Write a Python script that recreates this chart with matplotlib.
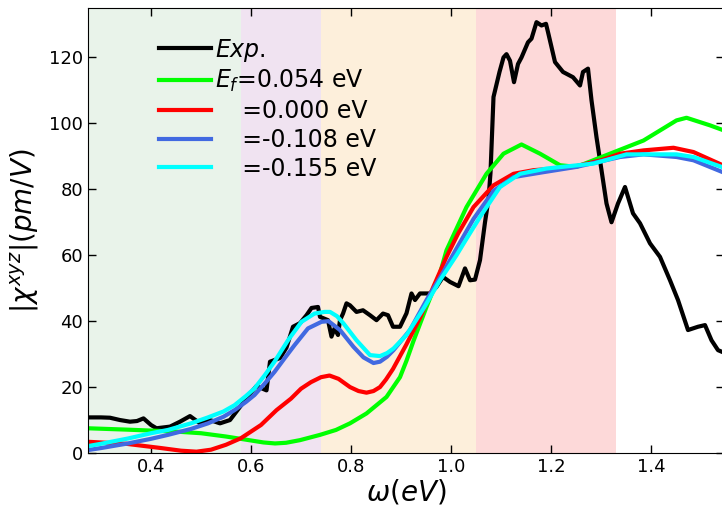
import matplotlib
matplotlib.use('Agg')
import matplotlib.pyplot as plt

# experimental |chi_xyz| (pm/V)
w_exp = [0.274, 0.30, 0.318, 0.338, 0.358, 0.372, 0.385, 0.40, 0.411, 0.438, 0.458,
         0.478, 0.498, 0.518, 0.538, 0.558, 0.578, 0.598, 0.611, 0.631, 0.638, 0.658,
         0.671, 0.684, 0.698, 0.711, 0.721, 0.734, 0.738, 0.754, 0.761, 0.767, 0.774,
         0.778, 0.784, 0.791, 0.798, 0.811, 0.824, 0.838, 0.851, 0.864, 0.874, 0.884,
         0.898, 0.911, 0.921, 0.928, 0.938, 0.958, 0.971, 0.984, 0.998, 1.015, 1.028,
         1.038, 1.048, 1.058, 1.068, 1.075, 1.079, 1.085, 1.097, 1.105, 1.111, 1.118,
         1.126, 1.134, 1.141, 1.154, 1.161, 1.171, 1.181, 1.19, 1.194, 1.208, 1.224,
         1.244, 1.258, 1.264, 1.274, 1.281, 1.291, 1.301, 1.311, 1.321, 1.334, 1.348,
         1.364, 1.378, 1.398, 1.418, 1.438, 1.454, 1.474, 1.494, 1.508, 1.521, 1.534,
         1.545]
chi_exp = [10.8, 10.8, 10.7, 10.0, 9.5, 9.7, 10.5, 8.5, 7.5, 8.0, 9.5,
           11.2, 9.0, 10.0, 9.0, 10.0, 14.0, 18.0, 20.3, 19.0, 27.7, 28.8,
           32.0, 38.3, 39.4, 41.8, 44.0, 44.3, 41.3, 40.3, 35.3, 37.8, 35.8,
           40.3, 42.3, 45.4, 44.8, 42.8, 43.3, 41.8, 40.3, 42.3, 41.8, 38.3,
           38.3, 42.4, 48.4, 46.4, 48.4, 48.4, 50.4, 53.4, 51.9, 50.6, 56.0,
           52.4, 52.6, 58.5, 70.0, 77.0, 85.0, 108.0, 115.6, 120.0, 121.0, 119.0,
           112.5, 118.0, 120.0, 124.6, 125.7, 130.7, 129.7, 130.2, 127.7, 118.6, 115.6,
           114.0, 111.5, 115.6, 116.6, 107.0, 95.8, 85.8, 75.7, 70.0, 75.7, 80.7,
           72.7, 69.7, 63.6, 59.5, 52.4, 46.4, 37.3, 38.3, 38.8, 34.2, 31.2,
           30.5]

# calculated, Ef = 0.054 eV
w_g = [0.274, 0.35, 0.40, 0.45, 0.50, 0.55, 0.60, 0.625, 0.648, 0.67, 0.698, 0.738,
       0.77, 0.798, 0.831, 0.871, 0.898, 0.911, 0.925, 0.951, 0.978, 0.991, 1.031,
       1.071, 1.105, 1.141, 1.178, 1.218, 1.251, 1.318, 1.385, 1.451, 1.471, 1.518,
       1.545]
chi_g = [7.5, 7.1, 6.8, 6.5, 6.0, 5.0, 3.8, 3.2, 2.9, 3.1, 3.9, 5.5,
         7.0, 9.0, 12.0, 17.0, 23.0, 28.0, 34.0, 44.3, 54.5, 61.5, 74.6,
         84.7, 90.8, 93.6, 90.8, 87.3, 86.8, 90.8, 94.8, 100.9, 101.7, 99.4,
         97.9]

# Ef = 0.000 eV
w_r = [0.274, 0.35, 0.42, 0.46, 0.491, 0.52, 0.55, 0.58, 0.62, 0.651, 0.68, 0.70,
       0.72, 0.74, 0.757, 0.775, 0.798, 0.815, 0.831, 0.845, 0.858, 0.87, 0.884,
       0.911, 0.938, 0.965, 0.991, 1.014, 1.045, 1.085, 1.125, 1.165, 1.20, 1.244,
       1.30, 1.338, 1.385, 1.445, 1.485, 1.545]
chi_r = [3.4, 2.8, 1.5, 0.7, 0.4, 1.0, 2.5, 4.5, 8.5, 13.0, 16.5, 19.5,
         21.5, 23.0, 23.5, 22.5, 20.0, 18.8, 18.3, 18.8, 20.0, 22.3, 25.5,
         33.0, 41.0, 50.5, 59.5, 66.5, 74.6, 81.2, 84.7, 85.8, 86.2, 86.8,
         88.8, 90.8, 91.8, 92.6, 91.3, 87.2]

# Ef = -0.108 eV
w_b = [0.274, 0.30, 0.354, 0.40, 0.434, 0.48, 0.514, 0.545, 0.567, 0.59, 0.607,
       0.627, 0.647, 0.667, 0.687, 0.714, 0.741, 0.755, 0.778, 0.805, 0.825, 0.845,
       0.858, 0.872, 0.885, 0.918, 0.951, 0.985, 1.011, 1.045, 1.085, 1.125, 1.185,
       1.251, 1.338, 1.385, 1.451, 1.485, 1.545]
chi_b = [0.9, 1.5, 2.9, 4.3, 5.5, 7.3, 9.0, 11.0, 13.0, 15.5, 17.6,
         21.0, 24.6, 28.7, 32.7, 37.8, 39.8, 40.0, 37.3, 32.2, 29.0, 27.3,
         27.7, 29.2, 31.2, 37.3, 46.4, 55.0, 62.0, 71.0, 79.5, 83.7, 85.2,
         86.8, 89.8, 90.6, 89.8, 88.8, 85.1]

# Ef = -0.155 eV
w_c = [0.274, 0.30, 0.354, 0.40, 0.434, 0.48, 0.514, 0.545, 0.567, 0.59, 0.607,
       0.627, 0.647, 0.674, 0.701, 0.727, 0.747, 0.758, 0.772, 0.785, 0.811, 0.838,
       0.858, 0.872, 0.885, 0.911, 0.945, 0.978, 1.011, 1.031, 1.058, 1.098, 1.138,
       1.191, 1.285, 1.351, 1.451, 1.485, 1.545]
chi_c = [2.1, 2.8, 4.4, 6.0, 7.0, 9.0, 10.8, 12.6, 14.5, 17.3, 19.6,
         23.5, 27.7, 34.2, 39.8, 42.3, 42.8, 42.8, 41.5, 39.3, 34.2, 29.7,
         29.4, 30.3, 31.7, 35.8, 43.8, 52.4, 60.0, 65.0, 71.6, 80.7, 84.7,
         86.3, 87.8, 90.6, 90.6, 89.8, 86.6]

# shaded energy windows
spans = [(0.274, 0.58, '#e9f3ea'), (0.58, 0.74, '#f0e3f1'),
         (0.74, 1.05, '#fdefdb'), (1.05, 1.33, '#fdd9d9')]


fig = plt.figure(figsize=(7.22, 5.08), dpi=100)
ax = fig.add_axes([88/722, 1 - 453/508, 636/722, 445/508])

for a, b, c in spans:
    ax.axvspan(a, b, color=c, lw=0, zorder=0)

pad = '   \u2009'
ax.plot(w_exp, chi_exp, '-', color='black', lw=3, label='$Exp.$')
ax.plot(w_g, chi_g, '-', color='#00ff00', lw=3, label='$E_f$=0.054 eV')
ax.plot(w_r, chi_r, '-', color='red', lw=3, label=pad + '=0.000 eV')
ax.plot(w_b, chi_b, '-', color='royalblue', lw=3, label=pad + '=-0.108 eV')
ax.plot(w_c, chi_c, '-', color='cyan', lw=3, label=pad + '=-0.155 eV')

ax.set_xlim(0.274, 1.546)
ax.set_ylim(0, 135)
ax.set_xticks([0.4, 0.6, 0.8, 1.0, 1.2, 1.4])
ax.set_yticks([0, 20, 40, 60, 80, 100, 120])
ax.tick_params(direction='in', top=True, right=True, length=6, width=1,
               labelsize=13)

ax.set_xlabel(r'$\omega(eV)$', fontsize=20, labelpad=1.5)
ax.set_ylabel(r'$|\chi^{xyz}|(pm/V)$', fontsize=20, labelpad=6)

ax.legend(loc='upper left', bbox_to_anchor=(0.085, 0.973), frameon=False,
          fontsize=17, handlelength=2.2, handletextpad=0.2, labelspacing=0.2,
          borderaxespad=0.3)

fig.savefig('out.png', dpi=100)
